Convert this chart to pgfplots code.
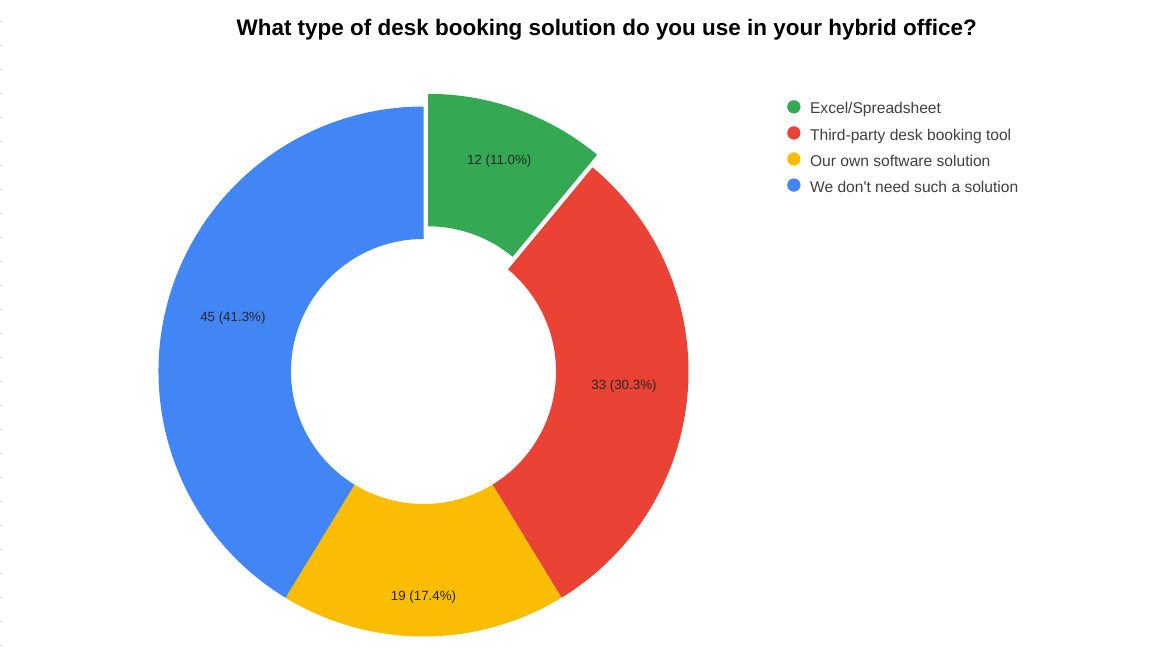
\documentclass[border=0pt]{standalone}
\usepackage{pgfplots}
\pgfplotsset{compat=1.18}
\usepackage{pgfplotstable}
\usepackage{fontspec}
\setmainfont{Liberation Sans}
\usetikzlibrary{calc}
\definecolor{cA}{HTML}{34A853}
\definecolor{cB}{HTML}{EA4335}
\definecolor{cC}{HTML}{FBBC04}
\definecolor{cD}{HTML}{4285F4}

% value = responses, lr = label distance from centre (px)
\pgfplotstableread{
value lr
12 210
33 201
19 226
45 198
}\donutdata

\newcommand{\donutslice}[4]{%
  \fill[#1] ($(axis cs:423.5,371)+(#4)+(#2:\R)$) arc[start angle=#2,end angle=#3,radius=\R]
    -- ($(axis cs:423.5,371)+(#4)+(#3:\r)$) arc[start angle=#3,end angle=#2,radius=\r] -- cycle;}
\newcommand{\pct}[1]{\pgfmathprintnumber[fixed,fixed zerofill,precision=1,assume math mode=true]{#1}}

\begin{document}
\begin{tikzpicture}
\pgfplotstablegetelem{0}{value}\of\donutdata \edef\vA{\pgfplotsretval}
\pgfplotstablegetelem{1}{value}\of\donutdata \edef\vB{\pgfplotsretval}
\pgfplotstablegetelem{2}{value}\of\donutdata \edef\vC{\pgfplotsretval}
\pgfplotstablegetelem{3}{value}\of\donutdata \edef\vD{\pgfplotsretval}
\pgfplotstablegetelem{0}{lr}\of\donutdata \pgfmathsetmacro{\lA}{\pgfplotsretval*0.75}
\pgfplotstablegetelem{1}{lr}\of\donutdata \pgfmathsetmacro{\lB}{\pgfplotsretval*0.75}
\pgfplotstablegetelem{2}{lr}\of\donutdata \pgfmathsetmacro{\lC}{\pgfplotsretval*0.75}
\pgfplotstablegetelem{3}{lr}\of\donutdata \pgfmathsetmacro{\lD}{\pgfplotsretval*0.75}
\pgfmathsetmacro{\T}{\vA+\vB+\vC+\vD}
\pgfmathsetmacro{\aA}{90}
\pgfmathsetmacro{\aB}{\aA-360*\vA/\T}
\pgfmathsetmacro{\aC}{\aB-360*\vB/\T}
\pgfmathsetmacro{\aD}{\aC-360*\vC/\T}
\pgfmathsetmacro{\aE}{\aD-360*\vD/\T}
\pgfmathsetmacro{\mA}{(\aA+\aB)/2}
\pgfmathsetmacro{\mB}{(\aB+\aC)/2}
\pgfmathsetmacro{\mC}{(\aC+\aD)/2}
\pgfmathsetmacro{\mD}{(\aD+\aE)/2}
\pgfmathsetmacro{\pA}{100*\vA/\T}
\pgfmathsetmacro{\pB}{100*\vB/\T}
\pgfmathsetmacro{\pC}{100*\vC/\T}
\pgfmathsetmacro{\pD}{100*\vD/\T}
\def\R{198.75pt}
\def\r{99.4pt}
\def\ex{10.1pt}
\begin{axis}[
  scale only axis, width=875.25pt, height=494.25pt,
  xmin=0, xmax=1167, ymin=0, ymax=659, y dir=reverse,
  hide axis, clip=false,
  legend cell align=left,
  legend style={at={(axis cs:787,99.5)}, anchor=north west, draw=none, fill=none,
    inner sep=0pt, row sep=6.8pt, column sep=7.2pt,
    font=\fontsize{11.7}{14}\selectfont, text=black!75,
    nodes={inner sep=0pt, text height=8.5pt, text depth=2.5pt}},
]
\fill[white] (axis cs:0,0) rectangle (axis cs:1167,659);
\draw[black!25, line width=0.75pt, dash pattern=on 0.75pt off 17.25pt, dash phase=2.6pt]
  (axis cs:0.6,0) -- (axis cs:0.6,659);
\node[font=\bfseries\fontsize{16.85}{20}\selectfont, anchor=base] at (axis cs:606.7,34.5)
  {What type of desk booking solution do you use in your hybrid office?};

\donutslice{cA}{\aA}{\aB}{\mA:\ex}
\donutslice{cB}{\aB}{\aC}{0pt,0pt}
\donutslice{cC}{\aC}{\aD}{0pt,0pt}
\donutslice{cD}{\aD}{\aE}{0pt,0pt}

\begin{scope}[every node/.style={font=\fontsize{10}{12}\selectfont, text=black!85}]
\node at ($(axis cs:423.5,371)+(\mA:\ex)+(\mA:\lA pt)$) {\vA\ (\pct{\pA}\%)};
\node at ($(axis cs:423.5,371)+(\mB:\lB pt)$) {\vB\ (\pct{\pB}\%)};
\node at ($(axis cs:423.5,371)+(\mC:\lC pt)$) {\vC\ (\pct{\pC}\%)};
\node at ($(axis cs:423.5,371)+(\mD:\lD pt)$) {\vD\ (\pct{\pD}\%)};
\end{scope}

\addlegendimage{legend image code/.code={\fill[cA] (4.75pt,2.3pt) circle[radius=4.75pt];}}
\addlegendentry{Excel/Spreadsheet}
\addlegendimage{legend image code/.code={\fill[cB] (4.75pt,2.3pt) circle[radius=4.75pt];}}
\addlegendentry{Third-party desk booking tool}
\addlegendimage{legend image code/.code={\fill[cC] (4.75pt,2.3pt) circle[radius=4.75pt];}}
\addlegendentry{Our own software solution}
\addlegendimage{legend image code/.code={\fill[cD] (4.75pt,2.3pt) circle[radius=4.75pt];}}
\addlegendentry{We don\textquotesingle t need such a solution}
\end{axis}
\end{tikzpicture}
\end{document}
